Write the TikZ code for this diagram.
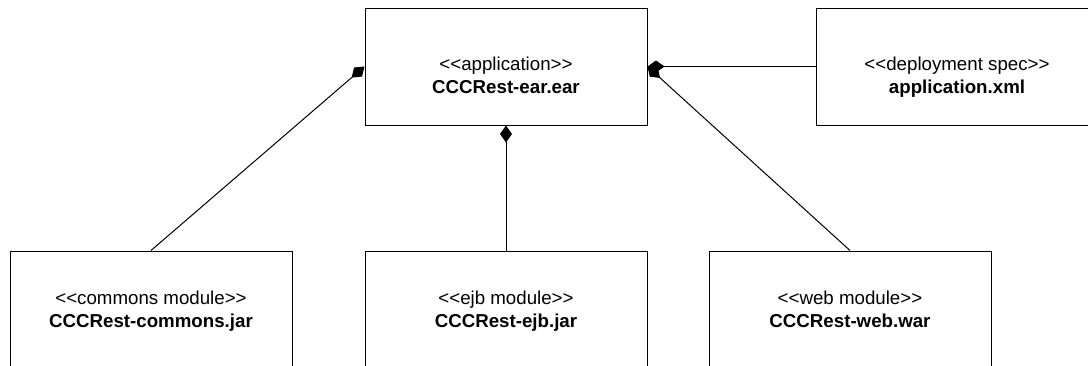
\documentclass[tikz,border=0pt]{standalone}
\usepackage{fontspec}
\setmainfont{Liberation Sans}
\usetikzlibrary{arrows.meta}
\begin{document}
\begin{tikzpicture}[x=1pt,y=-1pt,
  artifact/.style={draw=black,line width=1pt,minimum width=282pt,minimum height=117pt,inner sep=0pt},
  stereo/.style={anchor=base,inner sep=0pt,font=\fontsize{18.7}{22}\selectfont},
  title/.style={anchor=base,inner sep=0pt,font=\fontsize{18.7}{22}\selectfont\bfseries},
  compose/.style={line width=1pt,-{Diamond[length=17pt,width=12pt]}}]
\useasboundingbox (0,0) rectangle (1088,365);
\clip (0,0) rectangle (1088,365);
% artifacts
\node[artifact] (app) at (506,66.5) {};
\node[artifact] (spec) at (957,66.5) {};
\node[artifact] (common) at (151,309.5) {};
\node[artifact] (ejb) at (506,309.5) {};
\node[artifact] (web) at (850,309.5) {};
% labels: stereotype line and artifact name
\node[stereo] (app-s) at ([yshift=-3.5pt]app.center) {<{}<application>{}>};
\node[title] (app-n) at ([yshift=-26.5pt]app.center) {CCCRest-ear.ear};
\node[stereo] (spec-s) at ([yshift=-3.5pt]spec.center) {<{}<deployment spec>{}>};
\node[title] (spec-n) at ([yshift=-26.5pt]spec.center) {application.xml};
\node[stereo] (common-s) at ([yshift=-54pt]common.north) {<{}<commons module>{}>};
\node[title] (common-n) at ([yshift=-77pt]common.north) {CCCRest-commons.jar};
\node[stereo] (ejb-s) at ([yshift=-54pt]ejb.north) {<{}<ejb module>{}>};
\node[title] (ejb-n) at ([yshift=-77pt]ejb.north) {CCCRest-ejb.jar};
\node[stereo] (web-s) at ([yshift=-54pt]web.north) {<{}<web module>{}>};
\node[title] (web-n) at ([yshift=-77pt]web.north) {CCCRest-web.war};
% composition links
\draw[compose] (common.north) -- (app.west);
\draw[compose] (ejb.north) -- (app.south);
\draw[compose] (web.north) -- (app.east);
\draw[compose] (spec.west) -- (app.east);
\end{tikzpicture}
\end{document}
